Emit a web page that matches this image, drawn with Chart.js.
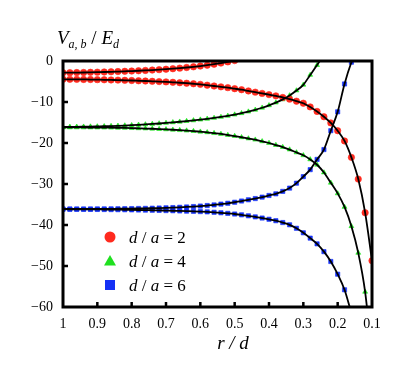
<!DOCTYPE html>
<html>
<head>
<meta charset="utf-8">
<script src="https://cdn.jsdelivr.net/npm/chart.js@4.4.1/dist/chart.umd.min.js"></script>
<style>
  body { margin: 0; background: #fff; }
</style>
</head>
<body>
<canvas id="myChart" width="416" height="373"></canvas>
<script>
// r / d sample positions (reversed axis, 1 -> 0.1)
const rValues = [1.00, 0.98, 0.96, 0.94, 0.92, 0.90, 0.88, 0.86, 0.84, 0.82,
  0.80, 0.78, 0.76, 0.74, 0.72, 0.70, 0.68, 0.66, 0.64, 0.62,
  0.60, 0.58, 0.56, 0.54, 0.52, 0.50, 0.48, 0.46, 0.44, 0.42,
  0.40, 0.38, 0.36, 0.34, 0.32, 0.30, 0.28, 0.26, 0.24, 0.22,
  0.20, 0.18, 0.16, 0.14, 0.12, 0.10];

// d/a = 2
const redA = [-2.85, -2.84, -2.82, -2.80, -2.76, -2.72, -2.68, -2.63, -2.57, -2.51,
  -2.45, -2.38, -2.30, -2.21, -2.11, -2.00, -1.88, -1.74, -1.59, -1.42,
  -1.23, -1.02, -0.78, -0.51, -0.22, 0.10, null, null, null, null,
  null, null, null, null, null, null, null, null, null, null,
  null, null, null, null, null, null];
const redB = [-4.46, -4.47, -4.48, -4.50, -4.52, -4.55, -4.58, -4.62, -4.66, -4.71,
  -4.76, -4.82, -4.88, -4.95, -5.02, -5.10, -5.20, -5.30, -5.42, -5.55,
  -5.70, -5.90, -6.10, -6.30, -6.50, -6.75, -7.00, -7.30, -7.60, -7.90,
  -8.20, -8.50, -8.90, -9.30, -9.80, -10.3, -11.2, -12.3, -13.6, -15.1,
  -17.0, -19.5, -23.5, -28.8, -37.0, -48.7];

// d/a = 4
const greenA = [-16.10, -16.08, -16.06, -16.03, -16.00, -15.96, -15.92, -15.87, -15.81, -15.74,
  -15.66, -15.57, -15.47, -15.36, -15.24, -15.11, -14.97, -14.82, -14.66, -14.49,
  -14.31, -14.11, -13.89, -13.65, -13.38, -13.08, -12.74, -12.35, -11.91, -11.40,
  -10.82, -10.15, -9.37, -8.40, -7.20, -5.80, -3.40, -1.00, 1.60, null,
  null, null, null, null, null, null];
const greenB = [-16.20, -16.20, -16.20, -16.21, -16.22, -16.23, -16.25, -16.27, -16.30, -16.33,
  -16.37, -16.42, -16.47, -16.53, -16.60, -16.68, -16.77, -16.87, -16.98, -17.10,
  -17.25, -17.40, -17.60, -17.80, -18.05, -18.30, -18.60, -18.90, -19.20, -19.60,
  -20.00, -20.50, -21.00, -21.60, -22.30, -23.00, -24.00, -25.30, -27.20, -29.70,
  -32.30, -35.60, -40.30, -46.80, -56.30, -72.0];

// d/a = 6
const blueA = [-36.10, -36.10, -36.10, -36.10, -36.09, -36.08, -36.07, -36.06, -36.04, -36.02,
  -36.00, -35.97, -35.94, -35.90, -35.86, -35.81, -35.75, -35.68, -35.60, -35.50,
  -35.38, -35.25, -35.10, -34.90, -34.70, -34.45, -34.15, -33.85, -33.55, -33.20,
  -32.80, -32.40, -31.80, -31.00, -29.80, -28.20, -26.50, -24.00, -21.60, -17.00,
  -12.40, -5.60, -0.30, 3.50, null, null];
const blueB = [-36.15, -36.16, -36.17, -36.18, -36.19, -36.20, -36.22, -36.24, -36.26, -36.28,
  -36.31, -36.34, -36.37, -36.40, -36.44, -36.48, -36.52, -36.57, -36.62, -36.67,
  -36.73, -36.80, -36.90, -37.02, -37.16, -37.32, -37.52, -37.76, -38.02, -38.30,
  -38.60, -38.95, -39.40, -39.95, -40.80, -41.90, -43.20, -44.60, -46.50, -48.90,
  -52.00, -55.80, -61.50, null, null, null];

const ratios = [2, 4, 6];
const colors = ["#ff2a1e", "#1fe01f", "#1430f5"];
const styles = ["circle", "triangle", "rect"];
const yTicks = [0, -10, -20, -30, -40, -50, -60];

const toPoints = (ys) =>
  rValues.map((r, i) => ({ x: r, y: ys[i] })).filter((p) => p.y !== null);

const curves = [
  [redA, redB],
  [greenA, greenB],
  [blueA, blueB],
];

const datasets = [];
curves.forEach((pair, k) => {
  pair.forEach((ys) => {
    // black curve on top
    datasets.push({
      data: toPoints(ys),
      borderColor: "#000",
      borderWidth: 1.8,
      pointRadius: 0,
      cubicInterpolationMode: "monotone",
      order: 0,
    });
    // coloured markers under it
    datasets.push({
      data: toPoints(ys),
      showLine: false,
      pointStyle: styles[k],
      pointRadius: k === 0 ? 3.2 : k === 1 ? 2.8 : 3,
      pointBackgroundColor: colors[k],
      pointBorderColor: colors[k],
      pointBorderWidth: 0.6,
      order: 1,
    });
  });
});

const decorations = {
  id: "decorations",
  afterDatasetsDraw(chart) {
    const { ctx, chartArea: a, scales } = chart;
    ctx.save();
    // inward tick marks
    ctx.strokeStyle = "#000";
    ctx.lineWidth = 2.5;
    scales.x.ticks.forEach((t) => {
      if (t.value <= 0.11 || t.value >= 0.99) return;
      const px = scales.x.getPixelForValue(t.value);
      ctx.beginPath();
      ctx.moveTo(px, a.bottom);
      ctx.lineTo(px, a.bottom - 5);
      ctx.stroke();
    });
    scales.y.ticks.forEach((t) => {
      if (t.value === 0 || t.value === -60) return;
      const py = scales.y.getPixelForValue(t.value);
      ctx.beginPath();
      ctx.moveTo(a.left, py);
      ctx.lineTo(a.left + 5, py);
      ctx.stroke();
    });
    // frame
    ctx.lineWidth = 3;
    ctx.strokeRect(a.left, a.top, a.right - a.left, a.bottom - a.top);

    // legend
    ratios.forEach((ratio, k) => {
      const y = 237 + k * 24;
      const x = 110;
      ctx.fillStyle = colors[k];
      ctx.beginPath();
      if (k === 0) {
        ctx.arc(x, y, 5.5, 0, Math.PI * 2);
      } else if (k === 1) {
        ctx.moveTo(x, y - 6);
        ctx.lineTo(x + 6, y + 4.5);
        ctx.lineTo(x - 6, y + 4.5);
        ctx.closePath();
      } else {
        ctx.rect(x - 5, y - 5, 10, 10);
      }
      ctx.fill();
      ctx.fillStyle = "#000";
      ctx.textBaseline = "alphabetic";
      ctx.textAlign = "left";
      let tx = 129;
      ctx.font = 'italic 17px "Liberation Serif"';
      ctx.fillText("d", tx, y + 6);
      tx += ctx.measureText("d").width;
      ctx.font = '17px "Liberation Serif"';
      ctx.fillText(" / ", tx, y + 6);
      tx += ctx.measureText(" / ").width;
      ctx.font = 'italic 17px "Liberation Serif"';
      ctx.fillText("a", tx, y + 6);
      tx += ctx.measureText("a").width;
      ctx.font = '17px "Liberation Serif"';
      ctx.fillText(" = " + ratio, tx, y + 6);
    });

    // y axis title V_{a,b} / E_d
    let tx = 57;
    const by = 44;
    ctx.fillStyle = "#000";
    ctx.font = 'italic 19px "Liberation Serif"';
    ctx.fillText("V", tx, by);
    tx += ctx.measureText("V").width;
    ctx.font = 'italic 12px "Liberation Serif"';
    ctx.fillText("a, b", tx, by + 4);
    tx += ctx.measureText("a, b").width;
    ctx.font = '19px "Liberation Serif"';
    ctx.fillText(" / ", tx, by);
    tx += ctx.measureText(" / ").width;
    ctx.font = 'italic 19px "Liberation Serif"';
    ctx.fillText("E", tx, by);
    tx += ctx.measureText("E").width;
    ctx.font = 'italic 12px "Liberation Serif"';
    ctx.fillText("d", tx, by + 4);

    // x axis title r / d
    ctx.textAlign = "center";
    ctx.font = 'italic 19px "Liberation Serif"';
    ctx.fillText("r / d", 233, 349);
    ctx.restore();
  },
};

const config = {
  type: "line",
  data: { datasets: datasets },
  plugins: [decorations],
  options: {
    responsive: false,
    animation: false,
    layout: { padding: { left: 0, top: 61, right: 44, bottom: 0 } },
    plugins: {
      legend: { display: false },
      tooltip: { enabled: false },
    },
    scales: {
      x: {
        type: "linear",
        reverse: true,
        min: 0.1,
        max: 1,
        afterFit: (scale) => {
          scale.height = 66;
        },
        grid: { display: false, drawTicks: false },
        border: { display: false },
        ticks: {
          stepSize: 0.1,
          padding: 9,
          color: "#000",
          font: { family: "Liberation Serif", size: 14 },
          callback: (v) => {
            const s = +v.toFixed(1);
            return s === 1 ? "1" : s.toFixed(1);
          },
        },
      },
      y: {
        min: -60,
        max: 0,
        afterFit: (scale) => {
          scale.width = 63;
        },
        afterBuildTicks: (scale) => {
          scale.ticks = yTicks.map((v) => ({ value: v }));
        },
        grid: { display: false, drawTicks: false },
        border: { display: false },
        ticks: {
          padding: 10,
          color: "#000",
          font: { family: "Liberation Serif", size: 14 },
          callback: (v) => (v < 0 ? "\u2212" + Math.abs(v) : "" + v),
        },
      },
    },
  },
};

const ctx = document.getElementById("myChart").getContext("2d");
const myChart = new Chart(ctx, config);
</script>
</body>
</html>
